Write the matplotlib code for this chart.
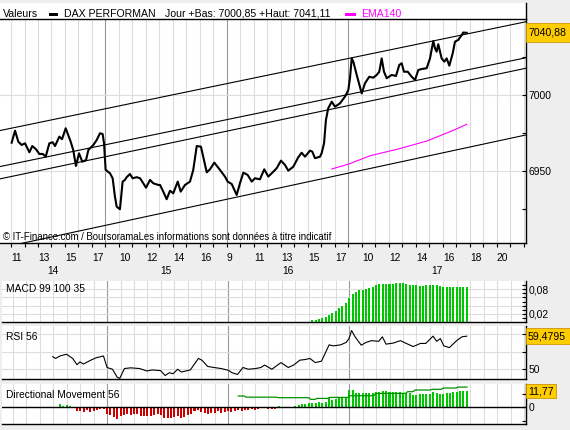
import matplotlib
matplotlib.use("Agg")
import matplotlib.pyplot as plt
from matplotlib.patches import Rectangle
import matplotlib.transforms as mtrans

plt.rcParams["font.family"] = ["Liberation Sans", "DejaVu Sans"]
plt.rcParams["font.size"] = 7.4

# time axis: trading hours, 0 = day 14 at 11:00, one unit per hour, bars every 15 min
day_names = ["14", "15", "16", "17"]
day_starts = [-2, 7, 16, 25]          # 9:00 of each day
hour_ticks = list(range(0, 37, 2))
hour_labels = ["11", "13", "15", "17", "10", "12", "14", "16", "9", "11", "13",
               "15", "17", "10", "12", "14", "16", "18", "20"]

# DAX Performance, 15 min
price_t = [0.05, 0.30, 0.54, 0.79, 1.04, 1.36, 1.58, 1.85, 2.10, 2.35,
           2.57, 2.84, 3.09, 3.26, 3.58, 3.78, 4.05, 4.42, 4.61, 4.81,
           5.04, 5.28, 5.56, 5.73, 6.10, 6.35, 6.59, 6.79, 6.89, 7.01,
           7.33, 7.53, 7.70, 7.83, 8.07, 8.27, 8.44, 8.57, 8.81, 9.01,
           9.31, 9.56, 9.80, 10.00, 10.30, 10.54, 10.91, 11.04, 11.28, 11.53,
           11.78, 12.02, 12.35, 12.57, 12.89, 13.26, 13.50, 13.76, 14.07, 14.50,
           14.74, 15.06, 15.48, 15.85, 16.05, 16.35, 16.72, 16.96, 17.21, 17.53,
           17.83, 18.07, 18.44, 18.76, 19.06, 19.43, 19.68, 20.00, 20.30, 20.54,
           20.91, 21.28, 21.53, 21.78, 22.15, 22.32, 22.52, 22.89, 23.01, 23.19,
           23.33, 23.50, 23.76, 24.00, 24.37, 24.74, 24.99, 25.11, 25.24, 25.36,
           25.61, 25.98, 26.22, 26.54, 26.84, 27.09, 27.28, 27.46, 27.63, 27.83,
           28.20, 28.52, 28.76, 28.94, 29.11, 29.39, 29.68, 29.93, 30.17, 30.42,
           30.79, 31.04, 31.28, 31.41, 31.53, 31.65, 31.90, 32.10, 32.27, 32.47,
           32.72, 32.89, 33.13, 33.39, 33.50, 33.76]
price_val = [6968.6, 6976.5, 6969.3, 6967.1, 6968.2, 6962.3, 6966.4, 6964.3, 6961.2, 6961.2,
             6959.4, 6968.2, 6968.9, 6966.4, 6972.6, 6970.9, 6978.1, 6969.3, 6963.8, 6953.3,
             6961.6, 6956.1, 6957.2, 6963.8, 6967.1, 6970.4, 6974.8, 6974.3, 6968.2, 6950.7,
             6948.5, 6945.2, 6933.1, 6926.5, 6924.8, 6943.0, 6944.1, 6945.9, 6948.0, 6945.2,
             6945.9, 6945.2, 6941.9, 6939.0, 6944.1, 6941.9, 6940.8, 6940.8, 6936.4, 6931.4,
             6937.0, 6935.3, 6943.0, 6936.4, 6940.8, 6943.0, 6950.7, 6966.4, 6966.0, 6949.1,
             6951.1, 6955.5, 6950.7, 6946.3, 6943.0, 6941.4, 6934.2, 6941.9, 6948.9, 6947.4,
             6943.0, 6945.2, 6944.5, 6951.1, 6946.3, 6949.5, 6951.8, 6956.8, 6953.9, 6950.2,
             6952.8, 6959.0, 6962.0, 6959.4, 6963.4, 6962.7, 6958.4, 6959.4, 6961.6, 6968.2,
             6983.6, 6991.3, 6995.6, 6992.3, 6994.5, 6998.9, 7003.3, 7011.0, 7024.1, 7021.9,
             7013.2, 7001.0, 7007.7, 7012.0, 7011.4, 7013.2, 7015.3, 7024.1, 7015.3, 7011.0,
             7013.2, 7012.5, 7019.7, 7020.9, 7015.3, 7015.3, 7012.0, 7009.9, 7016.4, 7017.1,
             7017.6, 7024.1, 7035.5, 7030.7, 7028.5, 7033.4, 7024.1, 7021.9, 7024.1, 7019.3,
             7027.4, 7035.1, 7036.2, 7039.5, 7041.1, 7040.9]
last_price = 7040.88

# regression channel lines, value at left and right edge of the chart
channel_left = [6976.6, 6952.9, 6944.8, 6899.3]
channel_right = [7048.2, 7024.5, 7017.6, 6973.7]

ema_t = [23.76, 25.0, 26.6, 28.7, 30.8, 32.7, 33.76]
ema_val = [6951.3, 6954.5, 6960.0, 6964.5, 6969.7, 6976.5, 6980.7]

# MACD 99 100 35 histogram, quarter-hour bars from index 89
macd_first = 89
macd_val = [0.0055, 0.0055, 0.007, 0.009, 0.012, 0.017, 0.022, 0.028, 0.034, 0.040,
            0.047, 0.059, 0.069, 0.074, 0.077, 0.079, 0.081, 0.084, 0.086, 0.090,
            0.092, 0.093, 0.093, 0.093, 0.093, 0.094, 0.095, 0.094, 0.092, 0.091,
            0.091, 0.090, 0.088, 0.088, 0.090, 0.090, 0.090, 0.090, 0.088, 0.086,
            0.085, 0.085, 0.085, 0.085, 0.085, 0.085, 0.085]

# RSI 56
rsi_t = [2.96, 3.17, 3.49, 3.98, 4.44, 4.76, 4.98, 5.24, 5.79, 6.19,
         6.73, 7.0, 7.4, 7.75, 7.94, 8.29, 8.75, 9.42, 9.96, 10.36,
         10.98, 11.31, 11.63, 11.9, 12.25, 12.52, 13.19, 13.46, 13.79, 14.05,
         14.48, 14.94, 15.48, 16.02, 16.29, 16.7, 17.1, 17.5, 18.04, 18.44,
         18.71, 19.25, 19.93, 20.47, 20.87, 21.33, 21.76, 22.08, 22.48, 22.94,
         23.16, 23.51, 23.83, 24.37, 24.78, 24.99, 25.18, 25.44, 25.9, 26.26,
         26.66, 27.2, 27.47, 27.74, 28.28, 28.81, 29.08, 29.76, 30.3, 30.7,
         31.24, 31.51, 31.78, 32.04, 32.45, 32.99, 33.39, 33.74]
rsi_val = [53.6, 53.1, 53.8, 54.3, 53.1, 51.3, 52.1, 51.5, 52.6, 53.3,
           53.8, 50.5, 50.0, 47.7, 47.4, 50.2, 50.4, 50.2, 49.5, 49.8,
           49.6, 48.2, 49.0, 48.7, 50.0, 49.2, 49.8, 51.3, 53.1, 52.6,
           50.8, 50.5, 50.2, 49.7, 49.0, 48.5, 50.5, 50.0, 50.2, 50.5,
           51.2, 50.0, 51.9, 50.5, 51.2, 52.6, 52.8, 53.1, 51.9, 52.3,
           54.1, 57.0, 56.7, 57.0, 57.7, 58.8, 61.1, 59.3, 56.9, 57.7,
           58.2, 58.0, 59.3, 57.2, 57.5, 58.2, 57.7, 56.5, 57.4, 57.4,
           59.5, 58.0, 58.8, 56.7, 56.2, 58.2, 59.3, 59.4795]

# Directional Movement 56, quarter-hour bars from index 12
dm_first = 12
dm_val = [0.7, 0, 2.2, 1.0, 1.9, 1.4, 0,
          -2.4, -2.4, -2.9, -1.9, -2.9, -2.4, -1.9, -1.4, -1.0,
          -4.3, -5.3, -6.7, -8.4, -6.0, -5.3, -4.8, -5.3, -4.3, -4.8,
          -6.2, -6.0, -6.0, -6.0, -5.3, -4.3, -5.3, -7.2, -7.7, -7.2,
          -6.7, -6.0, -7.2, -6.7, -5.3, -4.3, -2.4, -1.9, -2.9, -3.6,
          -4.3, -3.6, -3.6, -2.4, -3.6, -2.9,
          -2.4, -2.9, -2.4, -1.9, -2.4, -1.9, -1.9, -1.4, -1.9, -1.4,
          0, 0, -1.4, -1.0, -1.4, 1.0, 0, 0, 0, 0,
          1.2, 1.7, 2.2, 2.6, 2.9, 3.1, 3.4, 3.6, 3.4, 3.8,
          6.7, 5.5, 6.0, 6.5, 6.7, 7.0,
          12.5, 12.5, 10.6, 10.6, 10.6, 10.6, 10.6, 10.6, 11.3, 11.3,
          12.0, 11.5, 11.3, 11.0, 11.0, 10.8, 10.6, 10.1, 10.1, 8.9,
          8.9, 9.4, 9.4, 9.4, 9.4, 10.8, 10.6, 9.6, 9.4, 10.1,
          10.6, 11.3, 10.8, 11.8, 11.8, 11.77]
dm_line_t = [16.76, 17.2, 17.35, 19.6, 19.75, 22.0, 22.15, 22.45, 22.6, 23.4,
             23.55, 24.9, 25.05, 26.8, 27.0, 29.2, 29.35, 29.75, 29.9, 31.0,
             31.2, 31.85, 32.0, 32.95, 33.1, 33.76]
dm_line_val = [8.2, 8.2, 7.4, 7.4, 7.0, 7.0, 5.8, 5.8, 6.5, 6.5,
               7.2, 7.2, 8.4, 8.4, 10.1, 10.1, 11.3, 11.3, 12.5, 12.5,
               13.0, 13.0, 13.9, 13.9, 14.6, 14.6]

W, H = 570, 430
XMIN, XMAX = -0.815, 38.15
GRID = "#DDDDDD"
DAYLINE = "#999999"
GREEN = "#00C800"
RED = "#CC0000"
GOLD = "#FFCC00"

fig = plt.figure(figsize=(W / 100, H / 100), dpi=100, facecolor="#EEEEEE")


def fx(x):
    return x / W


def fy(y):
    return 1 - y / H


def add_panel(x0, y0, x1, y1):
    ax = fig.add_axes([fx(x0), fy(y1), (x1 - x0) / W, (y1 - y0) / H])
    ax.set_facecolor("white")
    ax.set_xlim(XMIN, XMAX)
    ax.spines["left"].set_visible(False)
    ax.spines["top"].set_visible(False)
    for s in ("right", "bottom"):
        ax.spines[s].set_color("black")
        ax.spines[s].set_linewidth(1.0)
    for t in range(0, 39):
        ax.axvline(t, color=DAYLINE if t in day_starts else GRID, lw=0.8, zorder=0)
    ax.yaxis.tick_right()
    ax.tick_params(axis="y", which="both", direction="in", length=3, pad=2,
                   labelsize=7.4, width=0.8)
    ax.set_xticks([])
    return ax


def value_box(ax, value, text, width, height):
    _, ypix = ax.transData.transform((0, value))
    x0 = ax.get_position().x1
    yc = ypix / fig.bbox.height
    fig.add_artist(Rectangle((x0, yc - height / 2 / H), width / W, height / H,
                             transform=fig.transFigure, facecolor=GOLD,
                             edgecolor="#C89600", lw=0.6, zorder=5))
    fig.text(x0 + 2 / W, yc, text, ha="left", va="center", fontsize=7.6, zorder=6)


# title band
tb = fig.add_axes([0, fy(19), 526 / W, 16 / H])
tb.set_facecolor("white")
tb.set_xticks([])
tb.set_yticks([])
for s in ("left", "top", "bottom"):
    tb.spines[s].set_visible(False)
tb.spines["right"].set_linewidth(1.0)

fig.text(fx(3), fy(14), "Valeurs", va="center", fontsize=7.6)
fig.add_artist(Rectangle((fx(49), fy(16)), 9 / W, 3.5 / H, transform=fig.transFigure,
                         facecolor="black", edgecolor="none"))
fig.text(fx(64), fy(14), "DAX PERFORMAN", va="center", fontsize=7.6)
fig.text(fx(165), fy(14), "Jour +Bas: 7000,85 +Haut: 7041,11", va="center", fontsize=7.6)
fig.add_artist(Rectangle((fx(345), fy(16)), 11 / W, 3.5 / H, transform=fig.transFigure,
                         facecolor="#FF00FF", edgecolor="none"))
fig.text(fx(361), fy(14), "EMA140", va="center", color="#FF00FF", fontsize=7.6)

# main price panel
ax = add_panel(0, 19, 526, 243)
ax.spines["top"].set_visible(True)
ax.spines["top"].set_linewidth(1.0)
ax.set_ylim(6902.6, 7050)
for lvl in (6950, 7000):
    ax.axhline(lvl, color=GRID, lw=0.8, zorder=0)
ax.set_yticks([6925, 6950, 6975, 7000, 7025])
ax.set_yticklabels(["", "6950", "", "7000", ""])
for lo, hi in zip(channel_left, channel_right):
    ax.plot([XMIN, XMAX], [lo, hi], color="black", lw=0.8, zorder=2)
ax.plot(ema_t, ema_val, color="#FF00FF", lw=0.8, zorder=2)
ax.plot(price_t, price_val, color="black", lw=1.5, zorder=3)
ax.set_xticks(hour_ticks)
ax.set_xticklabels(hour_labels, ha="left")
ax.set_xticks(range(0, 39), minor=True)
ax.tick_params(axis="x", which="both", direction="out", length=3, pad=4,
               labelsize=7.4, width=0.8)
day_tr = mtrans.blended_transform_factory(ax.transData, fig.transFigure)
bounds = day_starts + [XMAX]
for i, name in enumerate(day_names):
    left = max(bounds[i], XMIN)
    ax.text((left + bounds[i + 1]) / 2, fy(271), name, transform=day_tr,
            ha="center", va="center", fontsize=7.4)
fig.text(fx(3), fy(237), "\u00a9 IT-Finance.com / BoursoramaLes informations sont donn\u00e9es \u00e0 titre indicatif",
         va="center", fontsize=6.9)
value_box(ax, last_price, "7040,88", 44, 19)

# MACD panel
am = add_panel(2, 281, 526, 322)
am.set_ylim(0, 0.1)
for lvl in (0.02, 0.04, 0.06, 0.08):
    am.axhline(lvl, color=GRID, lw=0.8, zorder=0)
macd_t = [(macd_first + i) / 4 for i in range(len(macd_val))]
am.bar(macd_t, macd_val, width=0.15, color=GREEN, zorder=2)
am.set_yticks([0.02, 0.08])
am.set_yticklabels(["0,02", "0,08"])
am.set_yticks([0.01 * k for k in range(1, 10)], minor=True)
am.text(0.007, 0.8, "MACD 99 100 35", transform=am.transAxes, va="center")

# RSI panel
ar = add_panel(2, 326, 526, 379)
ar.set_ylim(47.2, 62.4)
for lvl in (50, 55, 60):
    ar.axhline(lvl, color=GRID, lw=0.8, zorder=0)
ar.plot(rsi_t, rsi_val, color="black", lw=0.8, zorder=2)
ar.set_yticks([50, 55, 60])
ar.set_yticklabels(["50", "", ""])
ar.text(0.007, 0.8, "RSI 56", transform=ar.transAxes, va="center")
value_box(ar, rsi_val[-1], "59,4795", 44, 16)

# Directional movement panel
ad = add_panel(2, 384, 526, 424)
ad.set_ylim(-11.8, 16.8)
ad.axhline(0, color="black", lw=1.0, zorder=3)
dm_t = [(dm_first + i) / 4 for i in range(len(dm_val))]
ad.bar(dm_t, dm_val, width=0.15, color=[GREEN if v >= 0 else RED for v in dm_val], zorder=2)
ad.plot(dm_line_t, dm_line_val, color="#009000", lw=0.9, zorder=4)
ad.set_yticks([-10, 0, 10])
ad.set_yticklabels(["", "0", ""])
ad.text(0.007, 0.72, "Directional Movement 56", transform=ad.transAxes, va="center")
value_box(ad, dm_val[-1], "11,77", 30, 14)

fig.savefig("out.png", dpi=100, facecolor=fig.get_facecolor())
